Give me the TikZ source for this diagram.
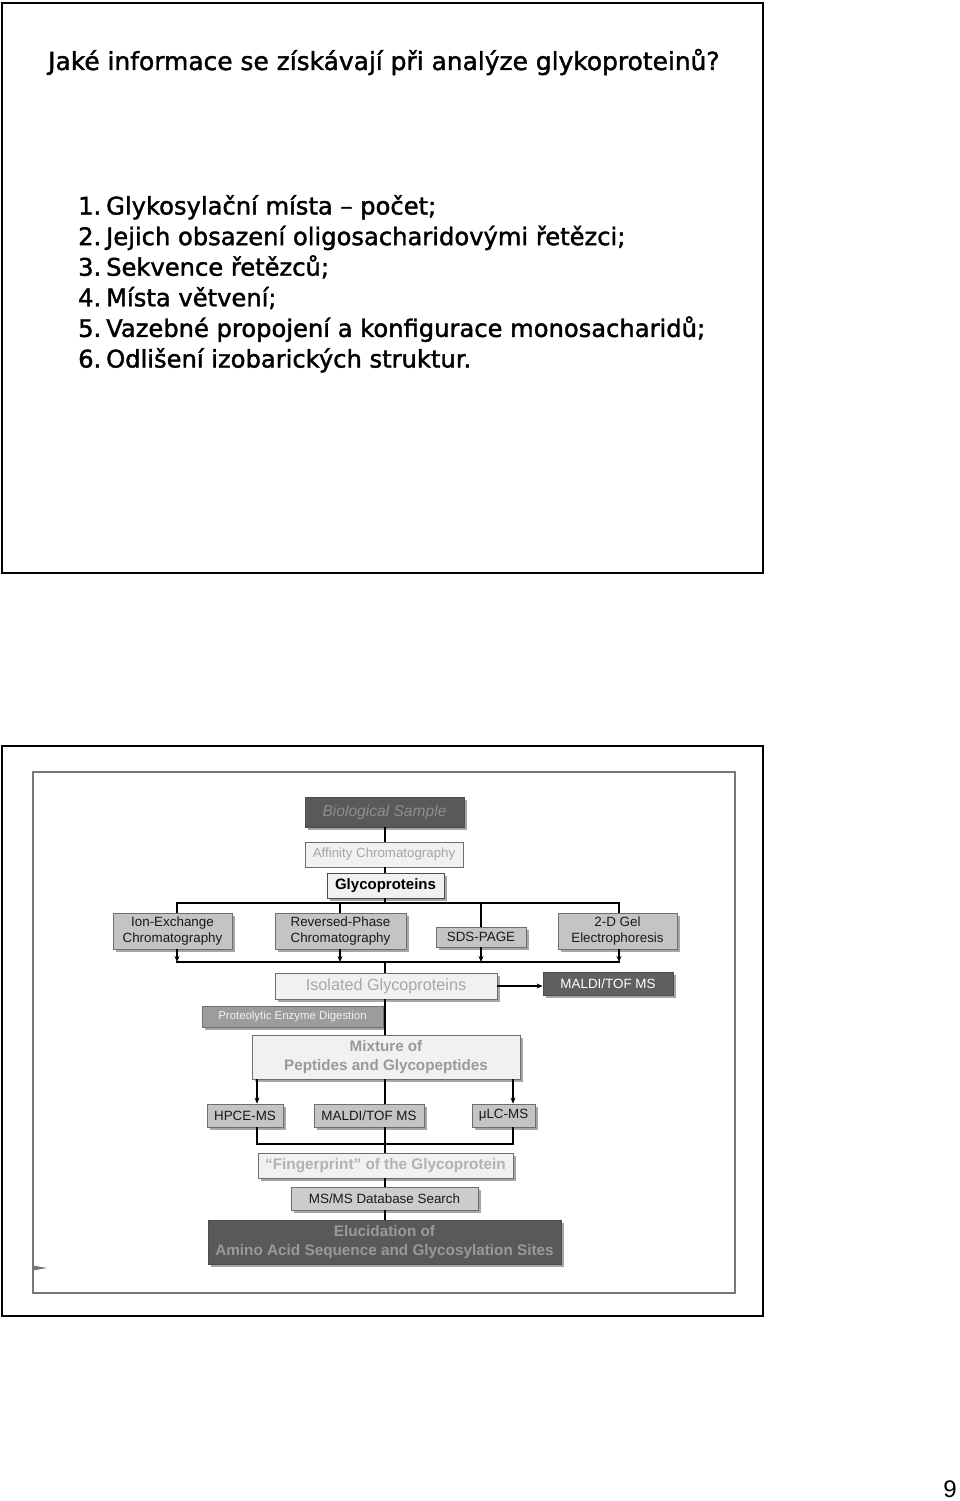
\documentclass[tikz,border=0pt]{standalone}
\usepackage{fontspec}
\setmainfont{Liberation Sans}
\newfontfamily\comic[FakeBold=1.6]{DejaVu Sans}
\usetikzlibrary{shadows,arrows.meta,calc}
\definecolor{cbio}{HTML}{595959}
\definecolor{cbiot}{HTML}{8E8E8E}
\definecolor{clight}{HTML}{F1F1F1}
\definecolor{clightt}{HTML}{A6A6A6}
\definecolor{cmid}{HTML}{C4C4C4}
\definecolor{cdark}{HTML}{606060}
\definecolor{cpro}{HTML}{9C9C9C}
\definecolor{cedge}{HTML}{6E6E6E}
\definecolor{cframe}{HTML}{777777}
\begin{document}
\begin{tikzpicture}[x=1pt,y=-1pt,
  bx/.style={rectangle, inner sep=0pt, align=center, line width=0.8pt, draw=cedge},
  shd/.style={general shadow={shadow xshift=2.5pt, shadow yshift=-2.5pt, fill=black!35, draw=none}},
  spine/.style={line width=2.4pt, black},
  bar/.style={line width=2.4pt, black},
  thinl/.style={line width=1.5pt, black},
  arr/.style={line width=1.5pt, black, -{Stealth[length=6pt,width=5pt]}},
  slide/.style={line width=2.2pt, black},
  stxt/.style={anchor=base west, inner sep=0pt, font=\comic\fontsize{24.2}{30}\selectfont},
  f13/.style={font=\fontsize{13.4}{16}\selectfont},
]
\useasboundingbox (0,0) rectangle (960,1501);
\fill[white] (0,0) rectangle (960,1501);

% ---------- slide 1 ----------
\draw[slide] (2,3) rectangle (763,573);
\node[stxt, font=\comic\fontsize{24.9}{30}\selectfont] (title) at (48,70) {Jaké informace se získávají při analýze glykoproteinů?};
\node[stxt] (n1) at (78,214.5) {1.};
\node[stxt] (n2) at (78,245.1) {2.};
\node[stxt] (n3) at (78,275.7) {3.};
\node[stxt] (n4) at (78,306.3) {4.};
\node[stxt] (n5) at (78,336.9) {5.};
\node[stxt] (n6) at (78,367.5) {6.};
\node[stxt] (t1) at (106,214.5) {Glykosylační místa – počet;};
\node[stxt] (t2) at (106,245.1) {Jejich obsazení oligosacharidovými řetězci;};
\node[stxt] (t3) at (106,275.7) {Sekvence řetězců;};
\node[stxt] (t4) at (106,306.3) {Místa větvení;};
\node[stxt] (t5) at (106,336.9) {Vazebné propojení a konfigurace monosacharidů;};
\node[stxt] (t6) at (106,367.5) {Odlišení izobarických struktur.};

% ---------- slide 2 ----------
\draw[slide] (2,746) rectangle (763,1316);
\draw[cframe, line width=1.2pt] (33,772) rectangle (735,1293);
\fill[cframe] (33,1265.5) -- (47,1268) -- (33,1270.5) -- cycle;

% nodes
\node[bx, shd, fill=cbio, draw=black!70, minimum width=159pt, minimum height=30pt,
      font=\itshape\fontsize{15.6}{18}\selectfont, text=cbiot] (bio) at (384.5,812) {Biological Sample};
\node[bx, fill=clight, minimum width=158pt, minimum height=25pt,
      font=\fontsize{13.3}{16}\selectfont, text=clightt] (aff) at (384,854.5) {Affinity Chromatography};
\node[bx, shd, fill=clight, draw=black!70, minimum width=117pt, minimum height=25pt,
      font=\bfseries\fontsize{15}{18}\selectfont, text=black] (gly) at (385.5,885.5) {Glycoproteins};
\node[bx, shd, fill=cmid, minimum width=119pt, minimum height=36pt, f13, text=black!90] (ion) at (172.5,931) {Ion-Exchange\\Chromatography};
\node[bx, shd, fill=cmid, minimum width=131pt, minimum height=36pt, f13, text=black!90] (rev) at (340.5,931) {Reversed-Phase\\Chromatography};
\node[bx, shd, fill=cmid, minimum width=90pt, minimum height=20pt, f13, text=black!90] (sds) at (481,937) {SDS-PAGE};
\node[bx, shd, fill=cmid, minimum width=119pt, minimum height=36pt, f13, text=black!90] (gel) at (617.5,931) {2-D Gel\\Electrophoresis};
\node[bx, shd, fill=clight, minimum width=222pt, minimum height=26pt,
      font=\fontsize{16.2}{19}\selectfont, text=clightt] (iso) at (386,986) {Isolated Glycoproteins};
\node[bx, shd, fill=cdark, draw=black!70, minimum width=130pt, minimum height=23pt, f13, text=white] (mal1) at (608,983.5) {MALDI/TOF MS};
\node[bx, shd, fill=cpro, draw=cedge, minimum width=181pt, minimum height=21pt,
      font=\fontsize{11.4}{14}\selectfont, text=black!5] (pro) at (292.5,1016.5) {Proteolytic Enzyme Digestion};
\node[bx, shd, fill=clight, minimum width=268pt, minimum height=44pt,
      font=\bfseries\fontsize{15.2}{18.5}\selectfont, text=black!40] (mix) at (386,1057) {Mixture of\\Peptides and Glycopeptides};
\node[bx, shd, fill=cmid, minimum width=76pt, minimum height=23pt, f13, text=black!90] (hpce) at (245,1115.5) {HPCE-MS};
\node[bx, shd, fill=cmid, minimum width=110pt, minimum height=23pt, f13, text=black!90] (mal2) at (369,1115.5) {MALDI/TOF MS};
\node[bx, shd, fill=cmid, minimum width=63pt, minimum height=23pt, f13, text=black!90] (ulc) at (503.5,1115.5) {μLC-MS};
\node[bx, shd, fill=clight, minimum width=255pt, minimum height=25pt,
      font=\bfseries\fontsize{15.3}{18}\selectfont, text=black!30] (fin) at (385.5,1165.5) {“Fingerprint” of the Glycoprotein};
\node[bx, shd, fill=black!20, minimum width=187pt, minimum height=23pt, f13, text=black!90] (msms) at (384.5,1198.5) {MS/MS Database Search};
\node[bx, shd, fill=cbio, draw=black!70, minimum width=353pt, minimum height=44pt,
      font=\bfseries\fontsize{15.3}{19}\selectfont, text=black!40] (elu) at (384.5,1242) {Elucidation of\\Amino Acid Sequence and Glycosylation Sites};

% helper coordinates
\coordinate (sp) at (385,0);
\coordinate (ca) at (177,0);
\coordinate (cb) at (340,0);
\coordinate (cc) at (481,0);
\coordinate (cd) at (619,0);
\coordinate (ch) at (257,0);
\coordinate (cu) at (513,0);
\coordinate (topL) at (177,903);
\coordinate (topR) at (619,903);
\coordinate (botL) at (177,962);
\coordinate (botR) at (619,962);
\coordinate (low) at (0,1144);

% connectors
\draw[spine] (bio.south -| sp) -- (aff.north -| sp);
\draw[spine] (aff.south -| sp) -- (gly.north -| sp);
\draw[spine] (gly.south -| sp) -- (sp |- topL);
\draw[bar] ([xshift=-1.2pt]topL) -- ([xshift=1.2pt]topR);
\draw[thinl] (topL) -- (ion.north -| ca);
\draw[thinl] (cb |- topL) -- (rev.north -| cb);
\draw[thinl] (cc |- topL) -- (sds.north -| cc);
\draw[thinl] (topR) -- (gel.north -| cd);
\draw[arr] (ion.south -| ca) -- (botL);
\draw[arr] (rev.south -| cb) -- (cb |- botL);
\draw[arr] (sds.south -| cc) -- (cc |- botL);
\draw[arr] (gel.south -| cd) -- (botR);
\draw[bar] ([xshift=-1.2pt]botL) -- ([xshift=1.2pt]botR);
\draw[spine] (sp |- botL) -- (iso.north -| sp);
\draw[arr] (iso.east) -- (iso.east -| mal1.west);
\draw[spine] (iso.south -| sp) -- (mix.north -| sp);
\draw[arr] (mix.south -| ch) -- (hpce.north -| ch);
\draw[arr] (mix.south -| cu) -- (ulc.north -| cu);
\draw[spine] (mix.south -| sp) -- (mal2.north -| sp);
\draw[thinl] (hpce.south -| ch) -- (ch |- low) -- (cu |- low) -- (ulc.south -| cu);
\draw[spine] (mal2.south -| sp) -- (fin.north -| sp);
\draw[spine] (fin.south -| sp) -- (msms.north -| sp);
\draw[spine] (msms.south -| sp) -- (elu.north -| sp);

% page number
\node[anchor=base east, inner sep=0pt, font=\fontsize{24}{28}\selectfont] (pg) at (957,1497) {9};
\end{tikzpicture}
\end{document}
